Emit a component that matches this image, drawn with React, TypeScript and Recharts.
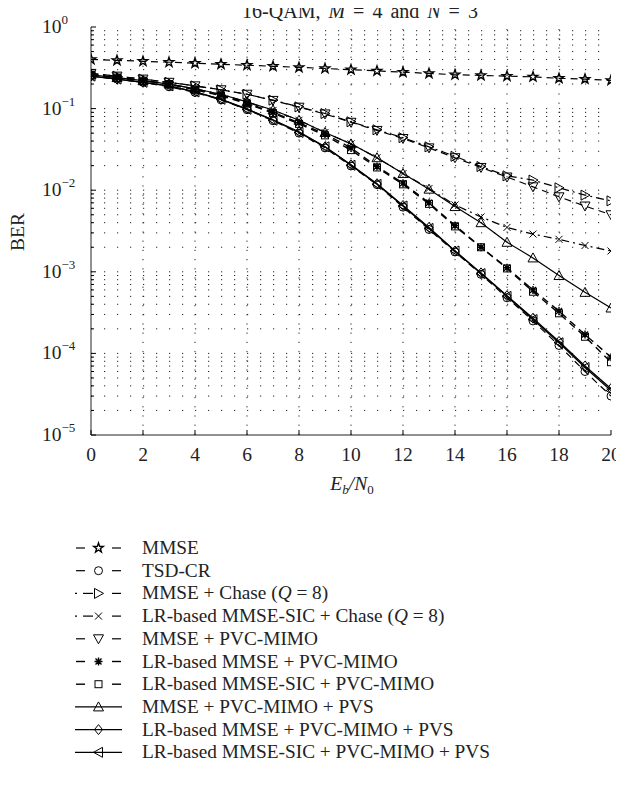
import React from 'react';
import { LineChart, Line, XAxis, YAxis, ReferenceLine } from 'recharts';

// Eb/N0 in dB
const ebN0 = [0, 1, 2, 3, 4, 5, 6, 7, 8, 9, 10, 11, 12, 13, 14, 15, 16, 17, 18, 19, 20];
const xTicks = [0, 2, 4, 6, 8, 10, 12, 14, 16, 18, 20];
const decadeTicks = [1e-5, 1e-4, 1e-3, 1e-2, 1e-1, 1];
const exponentLabels = ['\u22125', '\u22124', '\u22123', '\u22122', '\u22121', '0'];

// BER curves
const mmse = [0.40, 0.39, 0.38, 0.37, 0.36, 0.35, 0.34, 0.33, 0.32, 0.31, 0.30, 0.29, 0.28, 0.27, 0.26, 0.255, 0.25, 0.245, 0.235, 0.23, 0.222];
const tsdCr = [0.25, 0.23, 0.21, 0.185, 0.158, 0.128, 0.097, 0.071, 0.05, 0.033, 0.0198, 0.0117, 0.0062, 0.0033, 0.00175, 0.00093, 0.00048, 0.00025, 0.000125, 0.00006, 0.00003];
const mmseChase = [0.27, 0.25, 0.23, 0.21, 0.19, 0.17, 0.15, 0.127, 0.105, 0.087, 0.069, 0.055, 0.044, 0.034, 0.026, 0.0195, 0.015, 0.0133, 0.0107, 0.0087, 0.0074];
const lrSicChase = [0.26, 0.24, 0.22, 0.2, 0.175, 0.15, 0.12, 0.095, 0.072, 0.051, 0.037, 0.025, 0.016, 0.0105, 0.0066, 0.0047, 0.0035, 0.0029, 0.0025, 0.0021, 0.0018];
const mmsePvc = [0.27, 0.25, 0.23, 0.21, 0.19, 0.17, 0.15, 0.126, 0.104, 0.086, 0.068, 0.054, 0.043, 0.033, 0.025, 0.019, 0.0145, 0.011, 0.0083, 0.0064, 0.005];
const lrMmsePvc = [0.26, 0.24, 0.22, 0.2, 0.172, 0.146, 0.117, 0.09, 0.067, 0.049, 0.033, 0.0195, 0.0122, 0.007, 0.0037, 0.002, 0.00112, 0.0006, 0.00033, 0.00017, 0.00009];
const lrSicPvc = [0.26, 0.24, 0.22, 0.2, 0.17, 0.144, 0.115, 0.088, 0.065, 0.047, 0.031, 0.019, 0.0118, 0.0068, 0.0036, 0.002, 0.0011, 0.00057, 0.00031, 0.00016, 0.000078];
const mmsePvcPvs = [0.26, 0.24, 0.22, 0.2, 0.175, 0.15, 0.121, 0.096, 0.072, 0.051, 0.037, 0.025, 0.016, 0.0103, 0.0063, 0.004, 0.0023, 0.00148, 0.0009, 0.00056, 0.00036];
const lrMmsePvcPvs = [0.25, 0.23, 0.21, 0.19, 0.16, 0.13, 0.099, 0.073, 0.052, 0.034, 0.0205, 0.012, 0.0065, 0.0035, 0.0018, 0.00097, 0.00051, 0.00027, 0.00014, 0.00007, 0.000037];
const lrSicPvcPvs = [0.25, 0.23, 0.21, 0.19, 0.16, 0.13, 0.098, 0.072, 0.051, 0.034, 0.0202, 0.0118, 0.0064, 0.0034, 0.0018, 0.00095, 0.0005, 0.00026, 0.000135, 0.000067, 0.000035];

type Shape = 'star' | 'circle' | 'triRight' | 'cross' | 'triDown' | 'asterisk' | 'square' | 'triUp' | 'diamond' | 'triLeft';
type Style = 'dash' | 'dashdot' | 'solid';

const DASH: Record<Style, string | undefined> = { dash: '7 5', dashdot: '8 4 2 4', solid: undefined };

const series: { key: string; name: string; values: number[]; shape: Shape; style: Style; width: number }[] = [
  { key: 'mmse', name: 'MMSE', values: mmse, shape: 'star', style: 'dash', width: 1.2 },
  { key: 'tsdCr', name: 'TSD-CR', values: tsdCr, shape: 'circle', style: 'dash', width: 1.2 },
  { key: 'mmseChase', name: 'MMSE + Chase (Q = 8)', values: mmseChase, shape: 'triRight', style: 'dashdot', width: 1.2 },
  { key: 'lrSicChase', name: 'LR-based MMSE-SIC + Chase (Q = 8)', values: lrSicChase, shape: 'cross', style: 'dashdot', width: 1.2 },
  { key: 'mmsePvc', name: 'MMSE + PVC-MIMO', values: mmsePvc, shape: 'triDown', style: 'dash', width: 1.2 },
  { key: 'lrMmsePvc', name: 'LR-based MMSE + PVC-MIMO', values: lrMmsePvc, shape: 'asterisk', style: 'dash', width: 1.4 },
  { key: 'lrSicPvc', name: 'LR-based MMSE-SIC + PVC-MIMO', values: lrSicPvc, shape: 'square', style: 'dash', width: 1.4 },
  { key: 'mmsePvcPvs', name: 'MMSE + PVC-MIMO + PVS', values: mmsePvcPvs, shape: 'triUp', style: 'solid', width: 1.2 },
  { key: 'lrMmsePvcPvs', name: 'LR-based MMSE + PVC-MIMO + PVS', values: lrMmsePvcPvs, shape: 'diamond', style: 'solid', width: 1.3 },
  { key: 'lrSicPvcPvs', name: 'LR-based MMSE-SIC + PVC-MIMO + PVS', values: lrSicPvcPvs, shape: 'triLeft', style: 'solid', width: 1.3 },
];

const data = ebN0.map((x, i) => {
  const row: Record<string, number> = { x };
  series.forEach((s) => { row[s.key] = s.values[i]; });
  return row;
});

// grid: log minor lines between decades; vertical dotted lines at the major ticks
const minorY: number[] = [];
for (let d = 0; d < decadeTicks.length - 1; d++) {
  for (let k = 2; k <= 9; k++) minorY.push(k * decadeTicks[d]);
}
const yTicksAll = [...decadeTicks, ...minorY].sort((a, b) => a - b);
const gridY = yTicksAll.filter((v) => v > 1e-5 && v < 1);
const gridX = xTicks.filter((v) => v > 0 && v < 20);

const FONT = '"Liberation Serif", "Times New Roman", serif';
const isDecade = (v: number) => Math.abs(Math.log10(v) - Math.round(Math.log10(v))) < 1e-6;

const Marker = ({ shape, cx, cy }: { shape: Shape; cx: number; cy: number }) => {
  const st = { fill: 'none', stroke: '#000', strokeWidth: 1 };
  switch (shape) {
    case 'star': {
      const pts: string[] = [];
      for (let i = 0; i < 10; i++) {
        const r = i % 2 ? 2.0 : 5.0;
        const a = (-90 + i * 36) * Math.PI / 180;
        pts.push(`${cx + r * Math.cos(a)},${cy + r * Math.sin(a)}`);
      }
      return <polygon points={pts.join(' ')} {...st} strokeWidth={1.4} />;
    }
    case 'circle':
      return <circle cx={cx} cy={cy} r={4} {...st} />;
    case 'triRight':
      return <polygon points={`${cx + 5},${cy} ${cx - 4},${cy - 5} ${cx - 4},${cy + 5}`} {...st} />;
    case 'triLeft':
      return <polygon points={`${cx - 5},${cy} ${cx + 4},${cy - 5} ${cx + 4},${cy + 5}`} {...st} />;
    case 'triUp':
      return <polygon points={`${cx},${cy - 5} ${cx - 5},${cy + 4} ${cx + 5},${cy + 4}`} {...st} />;
    case 'triDown':
      return <polygon points={`${cx},${cy + 5} ${cx - 5},${cy - 4} ${cx + 5},${cy - 4}`} {...st} />;
    case 'cross':
      return <path d={`M${cx - 3.5},${cy - 3.5}L${cx + 3.5},${cy + 3.5}M${cx - 3.5},${cy + 3.5}L${cx + 3.5},${cy - 3.5}`} {...st} />;
    case 'asterisk':
      return <path d={`M${cx - 4},${cy}L${cx + 4},${cy}M${cx},${cy - 4}L${cx},${cy + 4}M${cx - 3},${cy - 3}L${cx + 3},${cy + 3}M${cx - 3},${cy + 3}L${cx + 3},${cy - 3}`} {...st} strokeWidth={1.4} />;
    case 'square':
      return <rect x={cx - 3.5} y={cy - 3.5} width={7} height={7} {...st} />;
    case 'diamond':
      return <polygon points={`${cx},${cy - 5} ${cx + 4},${cy} ${cx},${cy + 5} ${cx - 4},${cy}`} {...st} />;
  }
  return null;
};

const BottomTick = ({ x, y, payload }: any) => (
  <g>
    <line x1={x} y1={y} x2={x} y2={y - 5} stroke="#000" />
    <text x={x} y={y + 26} textAnchor="middle" fontSize={19.5} fontFamily={FONT} fill="#222">{payload.value}</text>
  </g>
);

const TopTick = ({ x, y }: any) => <line x1={x} y1={y} x2={x} y2={y + 5} stroke="#000" />;

const LeftTick = ({ x, y, payload }: any) => {
  const v = payload.value as number;
  const major = isDecade(v);
  const idx = decadeTicks.findIndex((d) => Math.abs(Math.log10(d) - Math.log10(v)) < 1e-6);
  return (
    <g>
      <line x1={x} y1={y} x2={x + (major ? 5 : 3)} y2={y} stroke="#000" />
      {major && (
        <text x={x - 49} y={y + 6} fontSize={19.5} fontFamily={FONT} fill="#222">
          10<tspan dy={-9} fontSize={13}>{exponentLabels[idx]}</tspan>
        </text>
      )}
    </g>
  );
};

const RightTick = ({ x, y, payload }: any) => {
  const major = isDecade(payload.value);
  return <line x1={x} y1={y} x2={x - (major ? 5 : 3)} y2={y} stroke="#000" />;
};

const LegendName = ({ name }: { name: string }) => (
  <>
    {name.split(/(Q)/).map((part, i) =>
      part === 'Q' ? <tspan key={i} fontStyle="italic">Q</tspan> : <tspan key={i}>{part}</tspan>
    )}
  </>
);

// legend key: "– o –" for dashed, "· –o –" for dash-dot, full line for solid
const LegendKey = ({ style, width, cy }: { style: Style; width: number; cy: number }) => {
  const p = { stroke: '#000', strokeWidth: width };
  if (style === 'solid') return <line x1={75} y1={cy} x2={122} y2={cy} {...p} />;
  return (
    <g>
      {style === 'dashdot' && <line x1={75} y1={cy} x2={77} y2={cy} {...p} />}
      <line x1={style === 'dashdot' ? 83 : 76} y1={cy} x2={style === 'dashdot' ? 93 : 85} y2={cy} {...p} />
      <line x1={112} y1={cy} x2={121} y2={cy} {...p} />
    </g>
  );
};

export default function App() {
  return (
    <div style={{ position: 'relative', marginTop: -8, marginLeft: -8, width: 624, height: 776 }}>
      <LineChart width={624} height={500} data={data} margin={{ top: 27, right: 13, bottom: 0, left: 0 }}>
        <XAxis dataKey="x" type="number" domain={[0, 20]} ticks={xTicks} interval={0} height={65}
          axisLine={{ stroke: '#222' }} tickLine={false} tickSize={0} tickMargin={0} tick={BottomTick} allowDataOverflow />
        <XAxis xAxisId="top" orientation="top" type="number" domain={[0, 20]} ticks={xTicks} interval={0} height={0}
          axisLine={{ stroke: '#222' }} tickLine={false} tickSize={0} tickMargin={0} tick={TopTick} allowDataOverflow />
        <YAxis scale="log" type="number" domain={[1e-5, 1]} ticks={yTicksAll} interval={0} width={91}
          axisLine={{ stroke: '#222' }} tickLine={false} tickSize={0} tickMargin={0} tick={LeftTick} allowDataOverflow />
        <YAxis yAxisId="right" orientation="right" scale="log" type="number" domain={[1e-5, 1]} ticks={yTicksAll} interval={0} width={0}
          axisLine={{ stroke: '#222' }} tickLine={false} tickSize={0} tickMargin={0} tick={RightTick} allowDataOverflow />
        {gridX.map((v) => (
          <ReferenceLine key={`gx${v}`} x={v} stroke="#222" strokeWidth={1} strokeDasharray="1.2 8" />
        ))}
        {gridY.map((v) => (
          <ReferenceLine key={`gy${v}`} y={v} stroke="#222" strokeWidth={1} strokeDasharray="1.2 11.8" />
        ))}
        {series.map((s) => (
          <Line key={s.key} dataKey={s.key} name={s.name} stroke="#000" strokeWidth={s.width}
            strokeDasharray={DASH[s.style]} isAnimationActive={false} activeDot={false}
            dot={(p: any) => <Marker key={`${s.key}-${p.index}`} shape={s.shape} cx={p.cx} cy={p.cy} />} />
        ))}
      </LineChart>
      <svg width={624} height={776} style={{ position: 'absolute', left: 0, top: 0, overflow: 'visible', pointerEvents: 'none' }}
        fontFamily={FONT} fill="#222">
        <text x={360} y={18} textAnchor="middle" fontSize={20} wordSpacing={3}>
          16-QAM, <tspan fontStyle="italic">M</tspan> = 4 and <tspan fontStyle="italic">N</tspan> = 3
        </text>
        <text x={24} y={232} textAnchor="middle" fontSize={19.5} transform="rotate(-90 24 232)">BER</text>
        <text x={352} y={490} textAnchor="middle" fontSize={19.5} fontStyle="italic">
          E<tspan dy={4} fontSize={13}>b</tspan><tspan dy={-4}>/N</tspan><tspan dy={4} fontSize={13} fontStyle="normal">0</tspan>
        </text>
        {series.map((s, i) => {
          const cy = 548 + i * 22.7;
          return (
            <g key={s.key}>
              <LegendKey style={s.style} width={s.width} cy={cy} />
              <Marker shape={s.shape} cx={98.5} cy={cy} />
              <text x={142} y={cy + 6} fontSize={19.3}><LegendName name={s.name} /></text>
            </g>
          );
        })}
      </svg>
    </div>
  );
}
